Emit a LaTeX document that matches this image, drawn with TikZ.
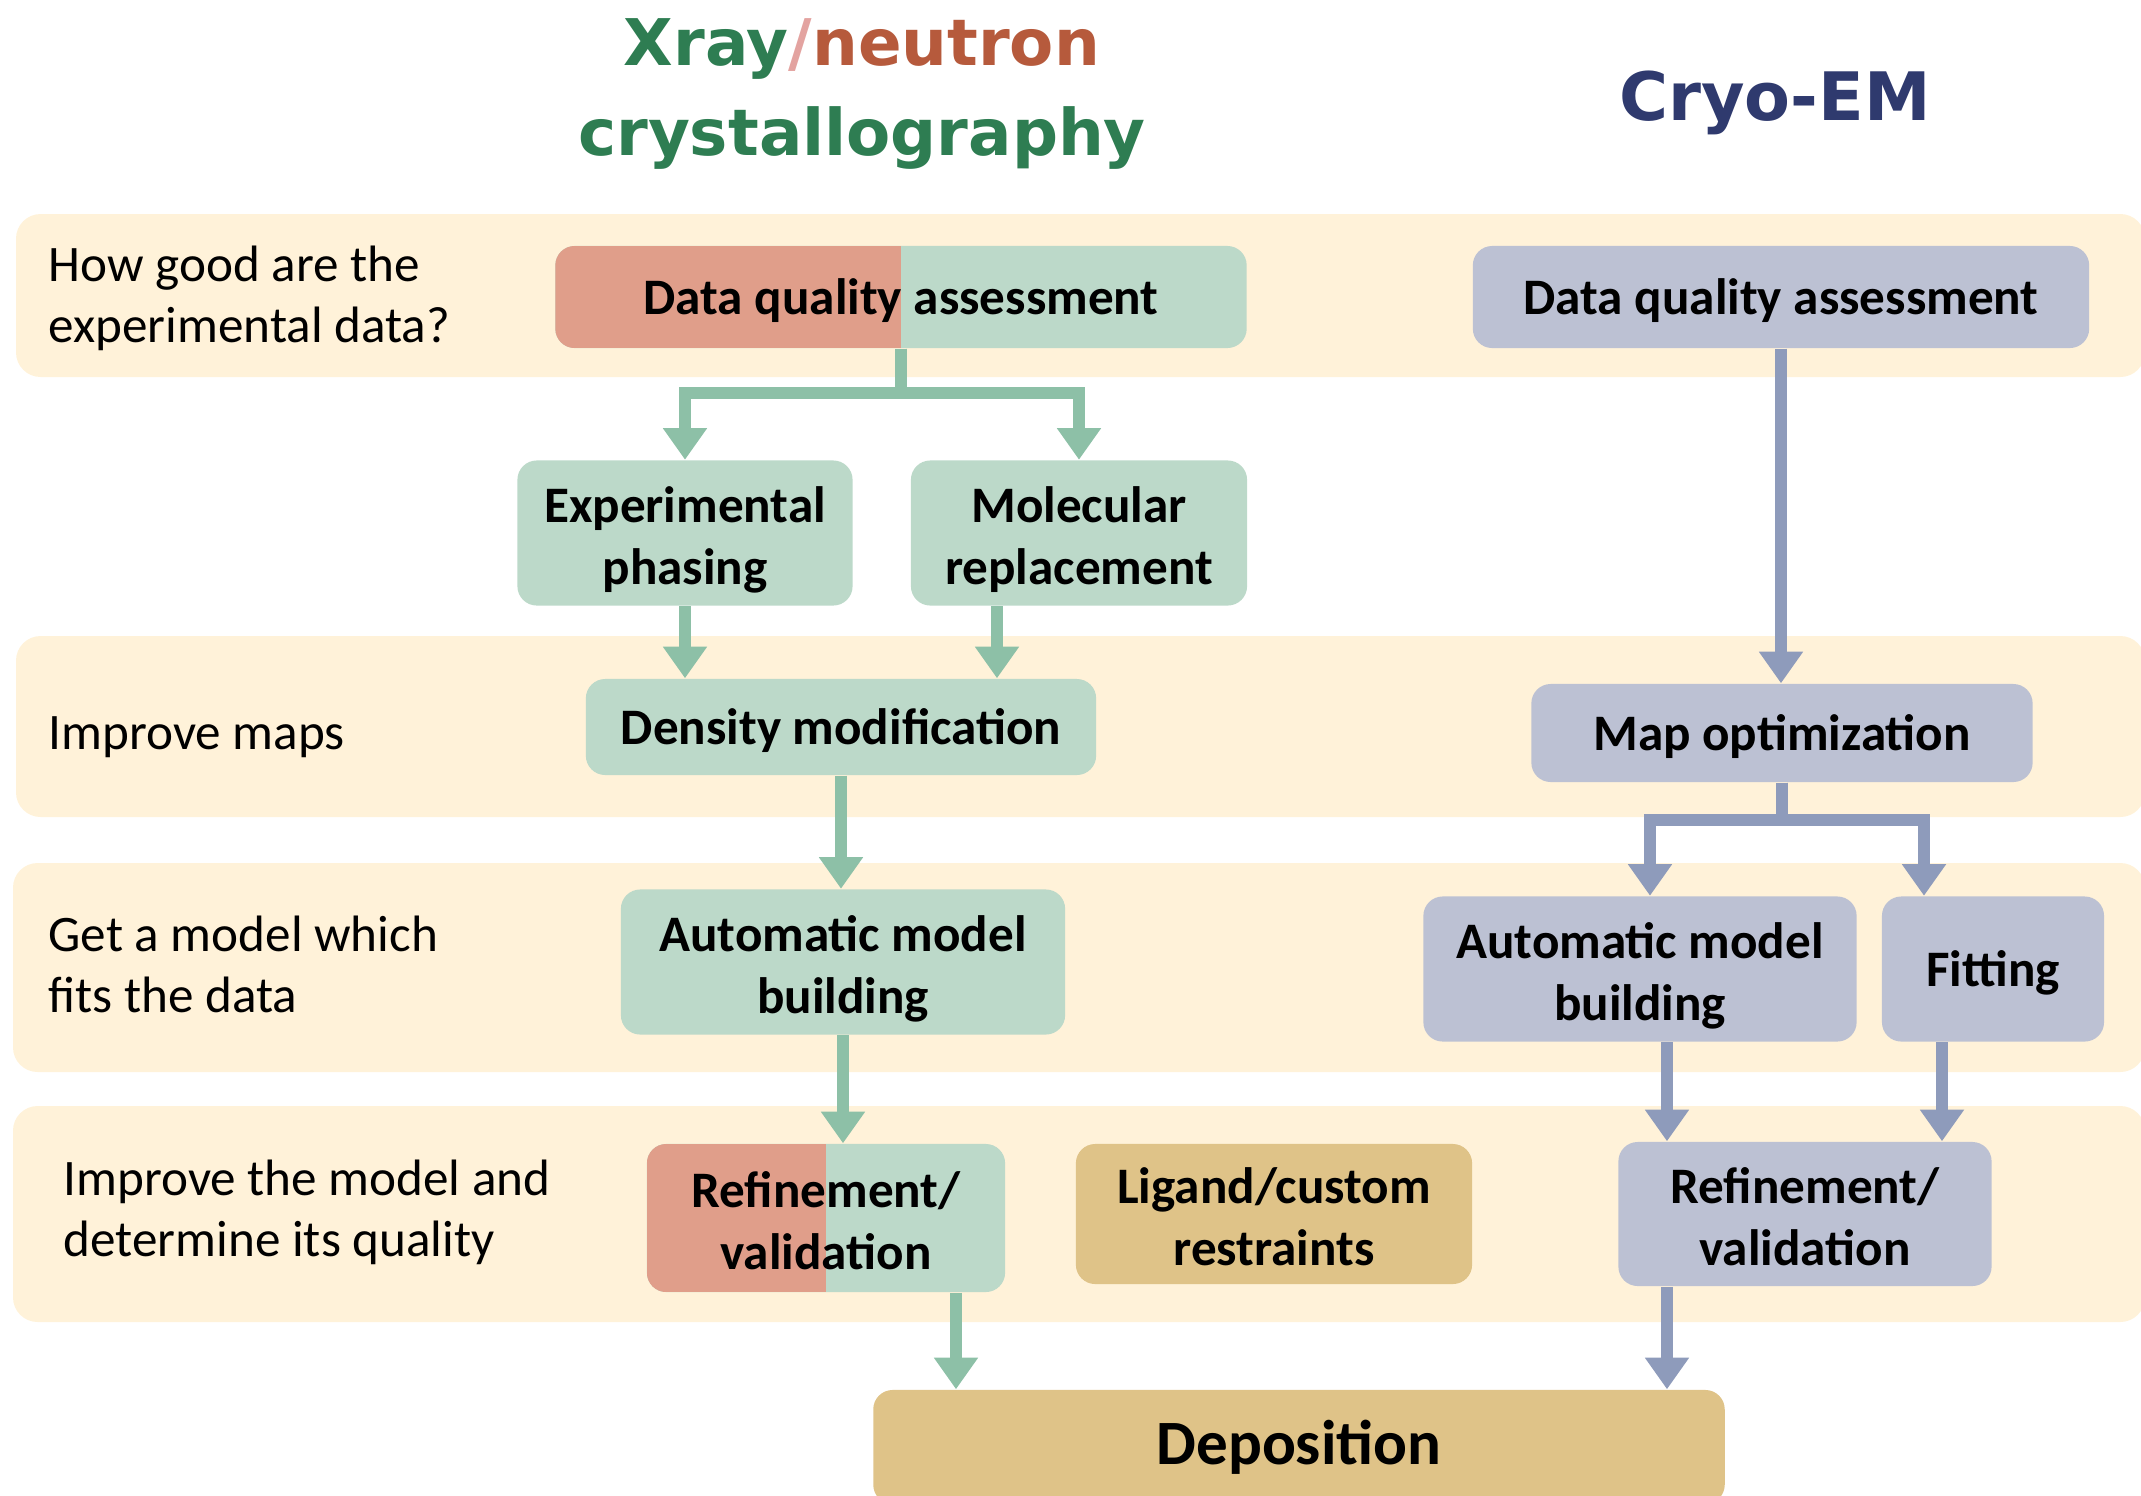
\documentclass[tikz,border=0pt]{standalone}
\usepackage{fontspec}
\usepackage{tikz}
\usetikzlibrary{arrows.meta}
\setmainfont{Carlito}
\newfontfamily\headfont{DejaVu Sans}
\definecolor{band}{HTML}{FFF2D9}
\definecolor{xgreen}{HTML}{BCD9C9}
\definecolor{xred}{HTML}{E09E8A}
\definecolor{emblue}{HTML}{BCC1D3}
\definecolor{gold}{HTML}{DFC388}
\definecolor{garrowc}{HTML}{8DC0A7}
\definecolor{barrowc}{HTML}{8E9BBB}
\definecolor{titlegreen}{HTML}{2E7D52}
\definecolor{titlered}{HTML}{B65A3C}
\definecolor{titleslash}{HTML}{E3A3A0}
\definecolor{titleblue}{HTML}{2F3A6E}

\tikzset{
	box/.style={rounded corners=5.5pt, inner sep=0pt, align=center, text height=13.5pt, text depth=3.5pt, font=\fontsize{14.55}{17.4}\selectfont\bfseries},
	box2/.style={box, text height=32.6pt},
	xbox/.style={box, fill=xgreen},
	xbox2/.style={box2, fill=xgreen},
	xsplit/.style={fill=xgreen, path picture={\fill[xred, sharp corners] (path picture bounding box.south west) rectangle (path picture bounding box.north);}},
	embox/.style={box, fill=emblue},
	embox2/.style={box2, fill=emblue},
	goldbox2/.style={box2, fill=gold},
	garrow/.style={draw=garrowc, line width=3.4pt, -{Triangle[width=12pt,length=9pt]}},
	barrow/.style={garrow, draw=barrowc},
	rowlabel/.style={anchor=west, align=left, inner sep=0pt, text height=13.5pt, text depth=3.5pt, font=\fontsize{14.55}{17.4}\selectfont},
	rowlabel2/.style={rowlabel, text height=30.5pt},
}

\begin{document}
\begin{tikzpicture}[x=0.01cm, y=-0.01cm]
			\useasboundingbox (0,0) rectangle (2141,1496);
			% rows
			\fill[band, rounded corners=7pt] (16,214) rectangle (2145,377);
			\fill[band, rounded corners=7pt] (16,636) rectangle (2145,817);
			\fill[band, rounded corners=7pt] (13,863) rectangle (2145,1072);
			\fill[band, rounded corners=7pt] (13,1106) rectangle (2145,1322);

			\node[font=\headfont\bfseries\fontsize{18.3}{25.6}\selectfont, text=titlegreen, align=center] (xtitle) at (862,94) {Xray{\color{titleslash}/}{\color{titlered}neutron}\\crystallography};
			\node[font=\headfont\bfseries\fontsize{19}{25.6}\selectfont, text=titleblue] (emtitle) at (1775,103) {Cryo-EM};

			\node[rowlabel2] (q1) at (48,295) {How good are the\\experimental data?};
			\node[rowlabel] (q2) at (48,732) {Improve maps};
			\node[rowlabel2] (q3) at (48,965) {Get a model which\\fits the data};
			\node[rowlabel2] (q4) at (63,1209) {Improve the model and\\determine its quality};

			% crystallography
			\node[box, xsplit, minimum width=6.91cm, minimum height=1.02cm] (dqax) at (901,297) {Data quality assessment};
			\node[xbox2, minimum width=3.35cm, minimum height=1.45cm] (ep) at (685,533) {Experimental\\phasing};
			\node[xbox2, minimum width=3.36cm, minimum height=1.45cm] (mr) at (1079,533) {Molecular\\replacement};
			\node[xbox, minimum width=5.10cm, minimum height=0.96cm] (dm) at (841,727) {Density modification};
			\node[xbox2, minimum width=4.44cm, minimum height=1.45cm] (ambx) at (843,962) {Automatic model\\building};
			\node[box2, xsplit, minimum width=3.58cm, minimum height=1.48cm] (refx) at (826,1218) {Refinement/\\validation};
			\node[goldbox2, minimum width=3.96cm, minimum height=1.40cm] (lig) at (1274,1214) {Ligand/custom\\restraints};

			% cryo-EM
			\node[embox, minimum width=6.16cm, minimum height=1.02cm] (dqae) at (1781,297) {Data quality assessment};
			\node[embox, minimum width=5.01cm, minimum height=0.98cm] (mapopt) at (1782,733) {Map optimization};
			\node[embox2, minimum width=4.33cm, minimum height=1.45cm] (ambe) at (1640,969) {Automatic model\\building};
			\node[embox, minimum width=2.22cm, minimum height=1.45cm] (fit) at (1993,969) {Fitting};
			\node[embox2, minimum width=3.73cm, minimum height=1.44cm] (refe) at (1805,1214) {Refinement/\\validation};

			\node[box, fill=gold, minimum width=8.51cm, minimum height=1.14cm, font=\fontsize{17.95}{20}\selectfont\bfseries] (depo) at (1299,1447) {Deposition};

			% lanes for the arrows
			\coordinate (mrlane) at (997,0);
			\coordinate (refxlane) at (956,0);
			\coordinate (amblane) at (1667,0);
			\coordinate (fitlane) at (1942,0);
			\coordinate (fitin) at (1924,0);
			\coordinate (ambin) at (1650,0);

			\draw[garrow] (dqax.south) -- ++(0,44) -| (ep.north);
			\draw[garrow] (dqax.south) -- ++(0,44) -| (mr.north);
			\draw[garrow] (ep.south) -- (ep.south |- dm.north);
			\draw[garrow] (mr.south -| mrlane) -- (dm.north -| mrlane);
			\draw[garrow] (dm.south) -- (dm.south |- ambx.north);
			\draw[garrow] (ambx.south) -- (ambx.south |- refx.north);
			\draw[garrow] (refx.south -| refxlane) -- (depo.north -| refxlane);

			\draw[barrow] (dqae.south) -- (dqae.south |- mapopt.north);
			\draw[barrow] (mapopt.south) -- ++(0,37) -| (ambe.north -| ambin);
			\draw[barrow] (mapopt.south) -- ++(0,37) -| (fit.north -| fitin);
			\draw[barrow] (ambe.south -| amblane) -- (refe.north -| amblane);
			\draw[barrow] (fit.south -| fitlane) -- (refe.north -| fitlane);
			\draw[barrow] (refe.south -| amblane) -- (depo.north -| amblane);
		\end{tikzpicture}
\end{document}
